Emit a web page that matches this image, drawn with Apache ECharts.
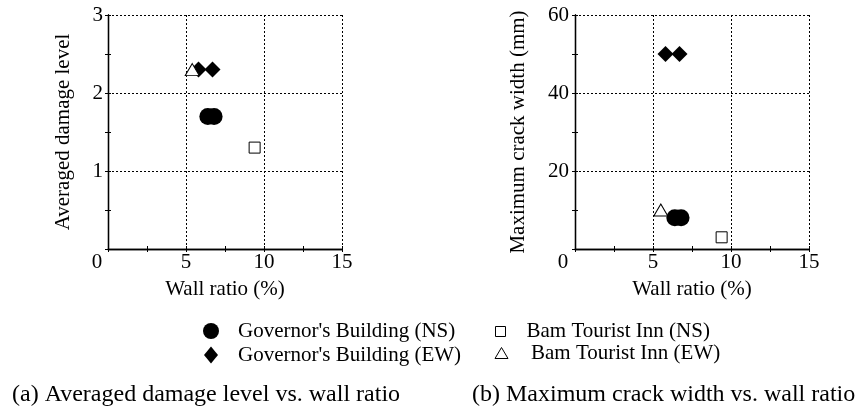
<!DOCTYPE html>
<html>
<head>
<meta charset="utf-8">
<script src="https://cdn.jsdelivr.net/npm/echarts@6/dist/echarts.min.js"></script>
<style>
html,body{margin:0;padding:0;background:#fff;}
#c{width:866px;height:410px;}
</style>
</head>
<body>
<div id="c"></div>
<script>
// ---- data ----
var xTicks = [0, 5, 10, 15];
var leftYTicks = [0, 1, 2, 3];
var rightYTicks = [0, 20, 40, 60];

var govNS_damage = [[6.4, 1.7], [6.8, 1.7]];
var govEW_damage = [[5.8, 2.3], [6.7, 2.3]];
var bamNS_damage = [[9.4, 1.3]];
var bamEW_damage = [[5.4, 2.3]];

var govNS_crack = [[6.4, 8], [6.8, 8]];
var govEW_crack = [[5.8, 50], [6.7, 50]];
var bamNS_crack = [[9.4, 3]];
var bamEW_crack = [[5.5, 10]];

var names = ["Governor's Building (NS)", "Governor's Building (EW)", "Bam Tourist Inn (NS)", "Bam Tourist Inn (EW)"];
var xName = 'Wall ratio (%)';
var yNameLeft = 'Averaged damage level';
var yNameRight = 'Maximum crack width (mm)';
var captionA = '(a) Averaged damage level vs. wall ratio';
var captionB = '(b) Maximum crack width vs. wall ratio';

// ---- styles ----
var FONT = 'Liberation Serif';
var dotted = {color: '#000', type: [2, 2], width: 1};
var axisLineStyle = {lineStyle: {color: '#000', width: 1.3}};

function xAxisMain(gi, zeroPad) {
  return {
    type: 'value', gridIndex: gi, min: xTicks[0], max: xTicks[xTicks.length - 1], interval: 5,
    position: 'bottom',
    name: xName, nameLocation: 'middle', nameGap: 30,
    nameTextStyle: {fontFamily: FONT, fontSize: 21, color: '#000'},
    axisLine: axisLineStyle,
    axisTick: {show: true, inside: true, length: 3, lineStyle: {color: '#000'}},
    minorTick: {show: true, splitNumber: 2, length: 3, lineStyle: {color: '#000'}},
    splitLine: {show: true, lineStyle: dotted},
    axisLabel: {
      fontFamily: FONT, fontSize: 21, color: '#000', margin: 3,
      formatter: function (v) { return v === 0 ? '{z|0}' : String(v); },
      rich: {z: {fontFamily: FONT, fontSize: 21, color: '#000', padding: [0, zeroPad, 0, 0]}}
    }
  };
}
function xAxisTop(gi) {
  return {
    type: 'value', gridIndex: gi, min: xTicks[0], max: xTicks[xTicks.length - 1], interval: 5,
    position: 'top',
    axisLine: axisLineStyle,
    axisTick: {show: true, inside: true, length: 3, lineStyle: {color: '#000'}},
    minorTick: {show: true, splitNumber: 2, length: 3, lineStyle: {color: '#000'}},
    splitLine: {show: false}, axisLabel: {show: false}
  };
}
function yAxisMain(gi, ticks, name, nameGap, margin) {
  return {
    type: 'value', gridIndex: gi, min: ticks[0], max: ticks[ticks.length - 1], interval: ticks[1] - ticks[0],
    position: 'left',
    name: name, nameLocation: 'middle', nameGap: nameGap, nameRotate: 90,
    nameTextStyle: {fontFamily: FONT, fontSize: 21, color: '#000'},
    axisLine: axisLineStyle,
    axisTick: {show: true, inside: true, length: 3, lineStyle: {color: '#000'}},
    minorTick: {show: true, splitNumber: 2, length: 3, lineStyle: {color: '#000'}},
    splitLine: {show: true, lineStyle: dotted},
    axisLabel: {
      fontFamily: FONT, fontSize: 21, color: '#000', margin: margin,
      formatter: function (v) { return v === 0 ? '' : String(v); }
    }
  };
}
function yAxisRight(gi, ticks) {
  return {
    type: 'value', gridIndex: gi, min: ticks[0], max: ticks[ticks.length - 1], interval: ticks[1] - ticks[0],
    position: 'right',
    axisLine: axisLineStyle,
    axisTick: {show: true, inside: true, length: 3, lineStyle: {color: '#000'}},
    minorTick: {show: true, splitNumber: 2, length: 3, lineStyle: {color: '#000'}},
    splitLine: {show: false}, axisLabel: {show: false}
  };
}

var filled = {color: '#000', opacity: 1};
var hollow = {color: '#fff', borderColor: '#000', borderWidth: 1, opacity: 1};

function s(name, data, xi, yi, symbol, size, style) {
  return {
    type: 'scatter', name: name, data: data, xAxisIndex: xi, yAxisIndex: yi,
    symbol: symbol, symbolSize: size, itemStyle: style,
    emphasis: {disabled: true}, z: 3
  };
}

function legend(name, icon, w, h, left, top, textPad, style) {
  return {
    data: [{name: name, icon: icon, itemStyle: style}],
    left: left, top: top, padding: 0, itemWidth: w, itemHeight: h, itemGap: 0,
    selectedMode: false,
    textStyle: {fontFamily: FONT, fontSize: 21, color: '#000', lineHeight: 22, padding: [0, 0, 0, textPad]},
    itemStyle: style
  };
}

var chart = echarts.init(document.getElementById('c'), null, {renderer: 'canvas'});
chart.setOption({
  animation: false,
  backgroundColor: '#fff',
  textStyle: {fontFamily: FONT},
  grid: [
    {left: 108, top: 15, width: 234, height: 234},
    {left: 575, top: 15, width: 234, height: 234}
  ],
  xAxis: [xAxisMain(0, 22), xAxisTop(0), xAxisMain(1, 24), xAxisTop(1)],
  yAxis: [
    yAxisMain(0, leftYTicks, yNameLeft, 34, 5), yAxisRight(0, leftYTicks),
    yAxisMain(1, rightYTicks, yNameRight, 46, 6), yAxisRight(1, rightYTicks)
  ],
  legend: [
    legend(names[0], 'circle', 16, 16, 203, 320, 14, filled),
    legend(names[1], 'diamond', 14, 17, 204, 344, 15, filled),
    legend(names[2], 'rect', 10, 10, 495, 320.5, 16, hollow),
    legend(names[3], 'triangle', 13, 11, 494.5, 342, 18, hollow)
  ],
  series: [
    s(names[0], govNS_damage, 0, 0, 'circle', 17, filled),
    s(names[1], govEW_damage, 0, 0, 'diamond', 16, filled),
    s(names[2], bamNS_damage, 0, 0, 'rect', 11, hollow),
    s(names[3], bamEW_damage, 0, 0, 'triangle', [14, 12], hollow),
    s(names[0], govNS_crack, 2, 2, 'circle', 17, filled),
    s(names[1], govEW_crack, 2, 2, 'diamond', 16, filled),
    s(names[2], bamNS_crack, 2, 2, 'rect', 11, hollow),
    s(names[3], bamEW_crack, 2, 2, 'triangle', [14, 12], hollow)
  ],
  graphic: [
    {type: 'text', left: 12, top: 383, style: {text: captionA, fontFamily: FONT, fontSize: 24, fill: '#000'}},
    {type: 'text', left: 472, top: 383, style: {text: captionB, fontFamily: FONT, fontSize: 24, fill: '#000'}}
  ]
});
</script>
</body>
</html>
